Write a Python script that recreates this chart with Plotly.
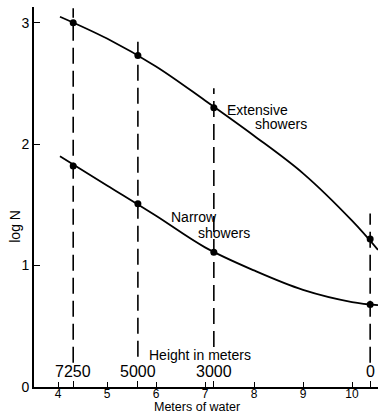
import plotly.graph_objects as go

# Data
ext_x = [4.31, 5.63, 7.18, 10.37]
ext_y = [3.00, 2.73, 2.30, 1.22]
nar_x = [4.31, 5.63, 7.18, 10.37]
nar_y = [1.82, 1.51, 1.11, 0.68]

# smooth curve guide points
ext_curve_x = [4.04, 5.0, 6.0, 7.0, 8.0, 9.0, 10.0, 10.53]
ext_curve_y = [3.05, 2.87, 2.64, 2.36, 2.07, 1.76, 1.37, 1.13]
nar_curve_x = [4.04, 5.0, 6.0, 7.0, 8.0, 9.0, 10.0, 10.53]
nar_curve_y = [1.90, 1.66, 1.41, 1.15, 0.96, 0.80, 0.70, 0.675]

# Height markers (meters of water position, label, dashed line extent)
height_x = [4.31, 5.63, 7.18, 10.37]
height_labels = ["7250", "5000", "3000", "0"]
height_top = [3.12, 2.89, 2.46, 1.43]
height_bottom = [0.20, 0.25, 0.33, 0.20]

x_ticks = [4, 5, 6, 7, 8, 9, 10]
y_ticks = [0, 1, 2, 3]

FONT = "Liberation Sans, Arial, sans-serif"

fig = go.Figure()

for hx, top, bot in zip(height_x, height_top, height_bottom):
    fig.add_trace(go.Scatter(x=[hx, hx], y=[bot, top], mode="lines",
                             line=dict(color="black", width=1.6, dash="16px,7px"),
                             showlegend=False, hoverinfo="skip"))

fig.add_trace(go.Scatter(x=ext_curve_x, y=ext_curve_y, mode="lines",
                         line=dict(color="black", width=1.8, shape="spline", smoothing=1.0),
                         showlegend=False))
fig.add_trace(go.Scatter(x=nar_curve_x, y=nar_curve_y, mode="lines",
                         line=dict(color="black", width=1.8, shape="spline", smoothing=1.0),
                         showlegend=False))
fig.add_trace(go.Scatter(x=ext_x, y=ext_y, mode="markers",
                         marker=dict(color="black", size=7), showlegend=False))
fig.add_trace(go.Scatter(x=nar_x, y=nar_y, mode="markers",
                         marker=dict(color="black", size=7), showlegend=False))

def txt(size):
    return dict(size=size, family=FONT, color="black")

annots = []
for hx, lab in zip(height_x, height_labels):
    annots.append(dict(x=hx, y=0.13, text=lab, showarrow=False, font=txt(16),
                       xanchor="center", yanchor="middle"))
annots.append(dict(x=6.9, y=0.26, text="Height in meters", showarrow=False,
                   font=txt(14), xanchor="center", yanchor="middle"))
annots.append(dict(x=7.4, y=2.28, text="Extensive", showarrow=False,
                   font=txt(14), xanchor="left", yanchor="middle"))
annots.append(dict(x=7.97, y=2.17, text="showers", showarrow=False,
                   font=txt(14), xanchor="left", yanchor="middle"))
annots.append(dict(x=6.27, y=1.40, text="Narrow", showarrow=False,
                   font=txt(14), xanchor="left", yanchor="middle"))
annots.append(dict(x=6.82, y=1.27, text="showers", showarrow=False,
                   font=txt(14), xanchor="left", yanchor="middle"))
annots.append(dict(x=6.84, y=0, xref="x", yref="paper", text="Meters of water",
                   showarrow=False, yshift=-20, font=txt(12.5),
                   xanchor="center", yanchor="middle"))
annots.append(dict(x=0, xref="paper", y=1.32, yref="y", text="log N", textangle=-90,
                   showarrow=False, xshift=-19, font=txt(14),
                   xanchor="center", yanchor="middle"))

fig.update_layout(
    width=380, height=414,
    margin=dict(l=34, r=2, t=7, b=27, autoexpand=False),
    plot_bgcolor="white", paper_bgcolor="white",
    annotations=annots,
    font=dict(family=FONT, color="black"),
    xaxis=dict(range=[3.51, 10.53], tickvals=x_ticks, ticks="inside", ticklen=5,
               tickwidth=1.3, tickcolor="black", showline=True, linecolor="black",
               linewidth=1.6, showgrid=False, zeroline=False, automargin=False,
               tickfont=txt(12), ticklabelstandoff=-5,
               minor=dict(tickmode="array", tickvals=height_x, ticks="inside",
                          ticklen=6, tickwidth=1.3, tickcolor="black", showgrid=False)),
    yaxis=dict(range=[0, 3.13], tickvals=y_ticks, ticks="inside", ticklen=6,
               tickwidth=1.3, tickcolor="black", showline=True, linecolor="black",
               linewidth=1.6, showgrid=False, zeroline=False, automargin=False,
               tickfont=txt(14)),
)

fig.write_html("out.html", config={"displayModeBar": False},
               post_script="document.body.style.margin='0';document.body.style.overflow='hidden';")
